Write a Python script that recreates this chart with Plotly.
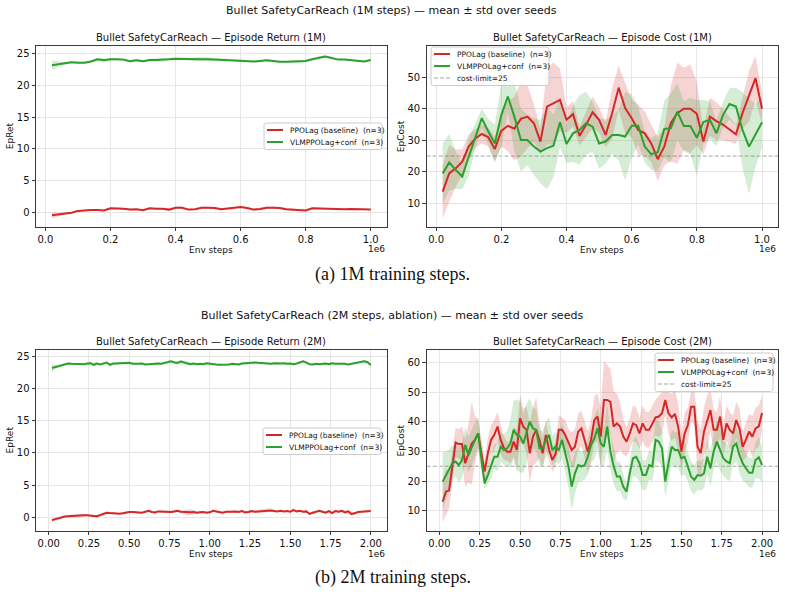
import plotly.graph_objects as go

# ---------------- data ----------------
steps_1m = [20000 * i for i in range(1, 51)]
steps_2m = [20000 * i for i in range(1, 101)]

xtick_vals_1m = [0, 200000, 400000, 600000, 800000, 1000000]
xtick_text_1m = ["0.0", "0.2", "0.4", "0.6", "0.8", "1.0"]
xtick_vals_2m = [0, 250000, 500000, 750000, 1000000, 1250000, 1500000, 1750000, 2000000]
xtick_text_2m = ["0.00", "0.25", "0.50", "0.75", "1.00", "1.25", "1.50", "1.75", "2.00"]
ret_ticks = [0, 5, 10, 15, 20, 25]
cost_ticks_1m = [10, 20, 30, 40, 50]
cost_ticks_2m = [10, 20, 30, 40, 50, 60]

series_names = ["PPOLag (baseline) \u00a0(n=3)", "VLMPPOLag+conf \u00a0(n=3)"]
limit_name = "cost-limit=25"
cost_limit = 25

# 1M run: episode return
ret1_red = [-0.5, -0.4, -0.2, -0.1, 0.2, 0.3, 0.35, 0.35, 0.25, 0.6,
            0.6, 0.55, 0.4, 0.45, 0.3, 0.6, 0.55, 0.55, 0.4, 0.7,
            0.7, 0.4, 0.45, 0.7, 0.7, 0.65, 0.45, 0.55, 0.6, 0.8,
            0.65, 0.4, 0.5, 0.7, 0.7, 0.65, 0.45, 0.4, 0.3, 0.25,
            0.6, 0.55, 0.5, 0.5, 0.45, 0.45, 0.5, 0.5, 0.45, 0.4]
ret1_red_sd = [0.5, 0.3, 0.15, 0.1, 0.1, 0.1, 0.1, 0.1, 0.1, 0.15,
               0.15, 0.15, 0.1, 0.1, 0.15, 0.15, 0.15, 0.15, 0.2, 0.2,
               0.2, 0.15, 0.15, 0.15, 0.2, 0.2, 0.15, 0.15, 0.15, 0.1,
               0.15, 0.2, 0.2, 0.2, 0.2, 0.15, 0.15, 0.15, 0.1, 0.1,
               0.15, 0.15, 0.1, 0.1, 0.1, 0.1, 0.1, 0.1, 0.1, 0.1]
ret1_green = [23.2, 23.4, 23.5, 23.7, 23.6, 23.6, 23.8, 24.15, 24.0, 24.15,
              24.15, 24.1, 23.85, 24.0, 23.85, 24.05, 24.05, 24.05, 24.15, 24.25,
              24.2, 24.15, 24.15, 24.15, 24.15, 24.1, 24.1, 24.05, 24.05, 24.0,
              23.9, 23.8, 23.9, 24.0, 23.9, 23.75, 23.75, 23.8, 23.8, 23.9,
              24.15, 24.4, 24.6, 24.35, 24.1, 24.1, 24.0, 24.0, 23.8, 24.05]
ret1_green_sd = [0.8, 0.4, 0.2, 0.15, 0.15, 0.15, 0.2, 0.25, 0.3, 0.2,
                 0.2, 0.2, 0.2, 0.15, 0.2, 0.2, 0.25, 0.3, 0.2, 0.15,
                 0.15, 0.2, 0.3, 0.35, 0.35, 0.3, 0.2, 0.15, 0.15, 0.15,
                 0.15, 0.15, 0.15, 0.15, 0.15, 0.15, 0.15, 0.15, 0.2, 0.2,
                 0.2, 0.25, 0.2, 0.2, 0.15, 0.15, 0.15, 0.15, 0.15, 0.15]

# 1M run: episode cost
cost1_red = [13.7, 19.5, 21.1, 23.2, 28.0, 30.6, 32.0, 31.0, 27.2, 33.0,
             34.6, 33.7, 36.8, 37.5, 35.4, 29.6, 40.7, 41.7, 42.8, 36.5,
             38.3, 31.4, 34.9, 38.9, 36.5, 31.7, 38.6, 46.7, 40.2, 37.0,
             33.3, 32.2, 29.0, 24.0, 28.0, 35.4, 38.6, 40.0, 40.0, 38.4,
             29.6, 37.5, 36.1, 35.0, 33.5, 31.9, 38.6, 43.9, 49.7, 40.0]
cost1_red_sd = [8.5, 9, 6, 4, 4, 3, 3, 3, 4, 5,
                8, 10, 12, 10, 6, 4, 12, 13, 10, 4,
                4, 3, 4, 5, 4, 4, 8, 7, 8, 6,
                8, 7, 6, 7, 6, 12, 16, 13, 14, 10,
                4, 6, 6, 5, 4, 3, 5, 8, 7, 5]
cost1_green = [19.5, 23.0, 20.6, 18.5, 24.8, 31.2, 37.0, 32.8, 29.0, 38.0,
               43.9, 37.5, 30.1, 30.1, 28.0, 26.4, 27.5, 28.3, 35.7, 28.8,
               32.2, 33.3, 35.4, 34.3, 29.0, 29.6, 31.7, 31.7, 31.2, 34.6,
               34.6, 28.0, 25.6, 26.2, 33.6, 33.8, 39.1, 34.5, 34.5, 30.8,
               35.8, 36.5, 32.2, 38.0, 41.5, 40.7, 33.3, 28.0, 31.7, 35.7]
cost1_green_sd = [9.5, 9, 6, 4, 6, 4, 3, 4, 6, 10,
                  5, 11, 10, 8, 9, 10, 13, 10, 8, 6,
                  9, 11, 10, 8, 8, 7, 6, 8, 14, 10,
                  6, 5, 5, 6, 9, 11, 9, 8, 9, 12,
                  7, 6, 4, 4, 5, 6, 12, 15, 10, 8]

# 2M run: episode return
ret2_red = [-0.45, -0.3, -0.15, 0.0, 0.1, 0.15, 0.2, 0.2, 0.25, 0.25,
            0.3, 0.3, 0.3, 0.2, 0.15, 0.35, 0.6, 0.7, 0.65, 0.6,
            0.6, 0.55, 0.6, 0.75, 0.8, 0.8, 0.75, 0.65, 0.7, 0.85,
            1.0, 0.8, 0.75, 0.9, 0.85, 0.9, 0.85, 0.8, 0.9, 1.0,
            0.85, 0.8, 0.7, 0.75, 0.8, 0.7, 0.75, 0.8, 0.7, 0.75,
            1.0, 0.9, 0.75, 0.7, 0.85, 0.8, 0.85, 0.9, 0.8, 0.95,
            0.75, 0.8, 0.95, 0.85, 0.9, 1.0, 1.05, 1.1, 1.05, 0.95,
            0.9, 1.0, 0.9, 0.95, 0.85, 1.1, 0.9, 1.0, 0.85, 0.9,
            0.5, 0.7, 0.8, 1.0, 0.85, 0.7, 0.95, 0.65, 0.95, 0.85,
            1.0, 0.75, 0.9, 0.5, 0.6, 0.8, 0.85, 0.9, 0.85, 0.95]
ret2_red_sd = [0.3, 0.2, 0.15, 0.15, 0.15, 0.15, 0.2, 0.2, 0.25, 0.25,
               0.2, 0.15, 0.15, 0.15, 0.15, 0.15, 0.15, 0.15, 0.15, 0.15,
               0.15, 0.15, 0.15, 0.15, 0.15, 0.15, 0.15, 0.15, 0.15, 0.15,
               0.15, 0.15, 0.15, 0.15, 0.15, 0.15, 0.2, 0.2, 0.2, 0.2,
               0.2, 0.3, 0.45, 0.5, 0.35, 0.25, 0.2, 0.15, 0.15, 0.15,
               0.15, 0.15, 0.15, 0.15, 0.15, 0.15, 0.15, 0.15, 0.15, 0.15,
               0.15, 0.15, 0.2, 0.2, 0.25, 0.3, 0.3, 0.3, 0.25, 0.2,
               0.15, 0.15, 0.15, 0.15, 0.15, 0.15, 0.15, 0.15, 0.15, 0.15,
               0.15, 0.15, 0.15, 0.15, 0.15, 0.15, 0.2, 0.2, 0.2, 0.2,
               0.2, 0.25, 0.3, 0.3, 0.2, 0.15, 0.15, 0.15, 0.15, 0.15]
ret2_green = [23.2, 23.35, 23.45, 23.6, 23.85, 23.9, 23.85, 23.85, 23.8, 23.75,
              23.8, 23.9, 23.95, 23.7, 23.9, 23.75, 23.9, 24.05, 23.7, 23.9,
              23.9, 23.95, 23.9, 23.95, 24.0, 23.85, 23.8, 23.85, 23.9, 23.75,
              23.8, 23.85, 23.8, 23.9, 23.85, 24.0, 24.15, 24.25, 24.05, 24.0,
              24.2, 24.1, 23.95, 23.8, 23.9, 23.8, 23.85, 23.8, 23.95, 23.85,
              23.8, 23.75, 23.7, 23.7, 23.65, 23.75, 23.85, 23.8, 23.75, 23.9,
              23.95, 23.9, 24.05, 24.05, 24.0, 23.95, 23.9, 23.95, 23.85, 23.95,
              23.9, 23.9, 23.95, 23.85, 23.9, 23.8, 23.9, 24.05, 24.25, 24.05,
              23.8, 23.75, 23.85, 23.8, 23.85, 23.9, 23.8, 23.95, 23.85, 23.85,
              23.95, 23.85, 23.75, 23.85, 24.0, 24.05, 24.2, 24.25, 24.1, 23.65]
ret2_green_sd = [0.7, 0.3, 0.2, 0.15, 0.15, 0.15, 0.15, 0.15, 0.15, 0.15,
                 0.15, 0.2, 0.25, 0.3, 0.2, 0.15, 0.15, 0.15, 0.15, 0.15,
                 0.15, 0.15, 0.15, 0.15, 0.15, 0.15, 0.15, 0.15, 0.15, 0.15,
                 0.15, 0.15, 0.15, 0.15, 0.15, 0.15, 0.2, 0.2, 0.2, 0.2,
                 0.25, 0.3, 0.3, 0.2, 0.15, 0.15, 0.15, 0.15, 0.15, 0.15,
                 0.15, 0.15, 0.15, 0.15, 0.15, 0.15, 0.15, 0.15, 0.15, 0.15,
                 0.15, 0.15, 0.15, 0.15, 0.15, 0.15, 0.15, 0.15, 0.15, 0.15,
                 0.15, 0.15, 0.15, 0.15, 0.15, 0.15, 0.15, 0.15, 0.2, 0.2,
                 0.15, 0.15, 0.15, 0.15, 0.15, 0.15, 0.15, 0.15, 0.15, 0.15,
                 0.15, 0.15, 0.15, 0.15, 0.15, 0.2, 0.2, 0.2, 0.2, 0.2]

# 2M run: episode cost
cost2_red = [13.0, 16.4, 16.8, 24.9, 33.0, 32.5, 32.5, 26.0, 29.4, 32.7,
             33.9, 36.1, 29.4, 23.2, 29.4, 33.9, 35.6, 38.4, 33.9, 31.1,
             29.9, 29.9, 33.3, 30.5, 41.2, 38.4, 37.3, 29.4, 35.0, 37.3,
             33.9, 29.4, 35.6, 30.5, 27.1, 29.1, 37.3, 37.3, 35.6, 32.7,
             30.5, 31.6, 36.7, 37.8, 33.9, 29.9, 33.9, 40.6, 41.8, 35.0,
             47.4, 47.4, 46.8, 38.4, 39.5, 38.4, 35.0, 33.3, 36.1, 39.5,
             38.9, 36.1, 39.5, 37.3, 37.3, 39.5, 41.5, 41.8, 42.9, 47.4,
             42.9, 41.5, 42.7, 38.4, 29.9, 36.1, 38.9, 45.1, 45.1, 31.6,
             29.4, 36.7, 40.1, 44.0, 37.3, 37.3, 41.8, 33.9, 39.5, 37.3,
             36.1, 40.6, 37.8, 31.6, 33.9, 36.7, 35.0, 37.8, 38.5, 43.0]
cost2_red_sd = [7, 8, 6, 6, 5, 5, 6, 8, 10, 14,
                8, 5, 5, 4, 5, 5, 5, 5, 5, 4,
                3, 4, 5, 7, 8, 6, 8, 10, 10, 11,
                6, 5, 5, 4, 4, 4, 5, 4, 5, 5,
                6, 6, 6, 6, 6, 7, 7, 8, 8, 10,
                13, 12, 11, 12, 10, 8, 6, 5, 5, 6,
                6, 5, 6, 6, 6, 6, 6, 7, 7, 5,
                7, 8, 8, 8, 6, 7, 6, 5, 6, 9,
                8, 8, 9, 7, 7, 6, 7, 5, 6, 6,
                6, 6, 7, 5, 6, 6, 7, 7, 7, 6]
cost2_green = [19.8, 22.0, 23.7, 26.0, 26.6, 25.4, 27.1, 32.2, 28.8, 31.6,
               33.9, 36.1, 27.7, 19.2, 22.0, 24.9, 28.2, 28.2, 31.6, 30.5,
               31.1, 32.7, 37.3, 35.6, 35.0, 32.7, 36.1, 40.1, 37.8, 37.3,
               31.1, 31.1, 33.9, 35.6, 30.5, 31.6, 30.5, 33.9, 29.4, 24.9,
               18.1, 22.6, 25.4, 24.9, 25.4, 28.2, 32.2, 34.4, 37.8, 32.7,
               31.6, 38.4, 30.0, 25.0, 21.5, 21.5, 18.0, 16.4, 22.6, 27.7,
               28.2, 26.0, 22.0, 22.0, 25.4, 24.9, 33.9, 33.3, 31.1, 19.8,
               26.0, 31.6, 30.5, 30.5, 27.7, 28.2, 24.9, 21.5, 20.4, 22.0,
               21.8, 22.6, 28.2, 24.3, 30.0, 33.3, 30.5, 27.7, 26.6, 26.0,
               31.6, 32.7, 28.8, 26.0, 24.3, 22.8, 22.8, 27.1, 28.0, 25.4]
cost2_green_sd = [10, 8, 7, 6, 5, 6, 6, 6, 6, 6,
                  6, 5, 5, 2, 3, 4, 4, 5, 5, 5,
                  6, 8, 10, 12, 12, 10, 10, 8, 7, 7,
                  6, 6, 6, 6, 5, 5, 5, 6, 6, 7,
                  8, 7, 6, 5, 5, 6, 6, 7, 7, 8,
                  6, 8, 6, 6, 5, 5, 4, 3, 4, 6,
                  7, 6, 5, 5, 5, 5, 7, 7, 6, 5,
                  6, 6, 6, 6, 6, 6, 5, 5, 5, 5,
                  5, 5, 6, 6, 6, 7, 7, 6, 6, 6,
                  6, 6, 6, 6, 5, 5, 5, 6, 7, 6]

# ---------------- styling ----------------
W, H = 785, 601
RED, GREEN = "#d62728", "#2ca02c"
RED_FILL, GREEN_FILL = "rgba(214,39,40,0.2)", "rgba(44,160,44,0.2)"
LIMIT_COLOR = "rgba(128,128,128,0.7)"
FONT = "DejaVu Sans"
SERIF = "Liberation Serif"
TXT = "#111111"
SPINE = "#3a3a3a"


def px(xp):
    return xp / W


def py(yp):
    return 1 - yp / H


panels = [
    dict(ax="", steps=steps_1m, red=ret1_red, red_sd=ret1_red_sd, green=ret1_green, green_sd=ret1_green_sd,
         cost=False, legend_box=(264, 123)),
    dict(ax="2", steps=steps_1m, red=cost1_red, red_sd=cost1_red_sd, green=cost1_green, green_sd=cost1_green_sd,
         cost=True, legend_box=(431, 47)),
    dict(ax="3", steps=steps_2m, red=ret2_red, red_sd=ret2_red_sd, green=ret2_green, green_sd=ret2_green_sd,
         cost=False, legend_box=(263, 428)),
    dict(ax="4", steps=steps_2m, red=cost2_red, red_sd=cost2_red_sd, green=cost2_green, green_sd=cost2_green_sd,
         cost=True, legend_box=(655, 353)),
]

fig = go.Figure()
shapes = []
annotations = []


def ann(text, x, y, size, xanchor="center", yanchor="middle", family=FONT, angle=0):
    return dict(text=text, x=x, y=y, xref="paper", yref="paper", showarrow=False, xanchor=xanchor,
                yanchor=yanchor, textangle=angle, font=dict(family=family, size=size, color=TXT))


def add_legend(left, top, items, width=118, row=12.0, pad=7.0):
    """Compact matplotlib-style legend box drawn in paper coordinates."""
    n = len(items)
    bottom = top + row * n + 2.5
    right = left + width
    r = 2.5
    x0, x1 = px(left), px(right)
    y0, y1 = py(top), py(bottom)
    rx, ry = r / W, r / H
    path = (f"M {x0 + rx},{y0} L {x1 - rx},{y0} Q {x1},{y0} {x1},{y0 - ry} "
            f"L {x1},{y1 + ry} Q {x1},{y1} {x1 - rx},{y1} L {x0 + rx},{y1} "
            f"Q {x0},{y1} {x0},{y1 + ry} L {x0},{y0 - ry} Q {x0},{y0} {x0 + rx},{y0} Z")
    shapes.append(dict(type="path", xref="paper", yref="paper", path=path,
                       fillcolor="rgba(255,255,255,0.85)", line=dict(color="#cccccc", width=1), layer="above"))
    for i, (color, dash, width_line, label) in enumerate(items):
        yc = top + pad + row * i
        shapes.append(dict(type="line", xref="paper", yref="paper", x0=px(left + 3), x1=px(left + 19),
                           y0=py(yc), y1=py(yc), line=dict(color=color, width=width_line, dash=dash),
                           layer="above"))
        annotations.append(ann(label, px(left + 24), py(yc), 7.5, xanchor="left"))


for p in panels:
    xa, ya = "x" + p["ax"], "y" + p["ax"]
    s = p["steps"]
    for mean, sd, fill in [(p["red"], p["red_sd"], RED_FILL), (p["green"], p["green_sd"], GREEN_FILL)]:
        upper = [m + d for m, d in zip(mean, sd)]
        lower = [m - d for m, d in zip(mean, sd)]
        fig.add_trace(go.Scatter(x=s + s[::-1], y=upper + lower[::-1], fill="toself", fillcolor=fill,
                                 line=dict(width=0), mode="lines", hoverinfo="skip", showlegend=False,
                                 xaxis=xa, yaxis=ya))
    for mean, color, name in [(p["red"], RED, series_names[0]), (p["green"], GREEN, series_names[1])]:
        fig.add_trace(go.Scatter(x=s, y=mean, mode="lines", line=dict(color=color, width=2), name=name,
                                 showlegend=False, xaxis=xa, yaxis=ya))
    items = [(RED, "solid", 2, series_names[0]), (GREEN, "solid", 2, series_names[1])]
    if p["cost"]:
        shapes.append(dict(type="line", xref=xa + " domain", yref=ya, x0=0, x1=1, y0=cost_limit, y1=cost_limit,
                           line=dict(color=LIMIT_COLOR, width=1, dash="4px,2px"), layer="below"))
        items.append((LIMIT_COLOR, "4px,2px", 1, limit_name))
    add_legend(p["legend_box"][0], p["legend_box"][1], items)

common = dict(showline=True, mirror=True, linecolor=SPINE, linewidth=1, ticks="outside", ticklen=3.5,
              tickwidth=1, tickcolor=SPINE, showgrid=True, gridcolor="#e6e6e6", gridwidth=1,
              zeroline=False, tickfont=dict(family=FONT, size=10, color=TXT))

L_X = [px(36), px(386.7)]
R_X = [px(426.7), px(778)]
T_Y = [py(226.7), py(45.7)]
B_Y = [py(530.7), py(350)]

layout_axes = {
    "xaxis": dict(common, domain=L_X, anchor="y", range=[-29000, 1049000],
                  tickvals=xtick_vals_1m, ticktext=xtick_text_1m),
    "yaxis": dict(common, domain=T_Y, anchor="x", range=[-2.3, 26.3], tickvals=ret_ticks),
    "xaxis2": dict(common, domain=R_X, anchor="y2", range=[-29000, 1049000],
                   tickvals=xtick_vals_1m, ticktext=xtick_text_1m),
    "yaxis2": dict(common, domain=T_Y, anchor="x2", range=[2.6, 60.0], tickvals=cost_ticks_1m),
    "xaxis3": dict(common, domain=L_X, anchor="y3", range=[-79000, 2099000],
                   tickvals=xtick_vals_2m, ticktext=xtick_text_2m),
    "yaxis3": dict(common, domain=B_Y, anchor="x3", range=[-2.1, 26.0], tickvals=ret_ticks),
    "xaxis4": dict(common, domain=R_X, anchor="y4", range=[-79000, 2099000],
                   tickvals=xtick_vals_2m, ticktext=xtick_text_2m),
    "yaxis4": dict(common, domain=B_Y, anchor="x4", range=[3.2, 64.3], tickvals=cost_ticks_2m),
}

lc = px((36 + 386.7) / 2)
rc = px((426.7 + 778) / 2)
annotations += [
    ann("Bullet SafetyCarReach (1M steps) — mean ± std over seeds", 0.499, py(11), 11),
    ann("Bullet SafetyCarReach — Episode Return (1M)", lc, py(37.5), 10),
    ann("Bullet SafetyCarReach — Episode Cost (1M)", rc, py(37.5), 10),
    ann("Env steps", lc, py(249.5), 9),
    ann("Env steps", rc, py(249.5), 9),
    ann("1e6", px(387), py(249), 9, xanchor="right"),
    ann("1e6", px(778), py(249), 9, xanchor="right"),
    ann("EpRet", px(10), py(136.2), 9, angle=-90),
    ann("EpCost", px(401), py(136.2), 9, angle=-90),
    ann("(a) 1M training steps.", 0.5, py(274), 18, family=SERIF),
    ann("Bullet SafetyCarReach (2M steps, ablation) — mean ± std over seeds", 0.499, py(315), 11),
    ann("Bullet SafetyCarReach — Episode Return (2M)", lc, py(341.7), 10),
    ann("Bullet SafetyCarReach — Episode Cost (2M)", rc, py(341.7), 10),
    ann("Env steps", lc, py(554), 9),
    ann("Env steps", rc, py(554), 9),
    ann("1e6", px(387), py(554), 9, xanchor="right"),
    ann("1e6", px(778), py(554), 9, xanchor="right"),
    ann("EpRet", px(10), py(440.4), 9, angle=-90),
    ann("EpCost", px(401), py(440.4), 9, angle=-90),
    ann("(b) 2M training steps.", 0.5, py(577), 18, family=SERIF),
]

fig.update_layout(width=W, height=H, margin=dict(l=0, r=0, t=0, b=0), paper_bgcolor="white",
                  plot_bgcolor="white", font=dict(family=FONT, color=TXT), annotations=annotations,
                  shapes=shapes, showlegend=False, **layout_axes)

fig.write_html("out.html")
